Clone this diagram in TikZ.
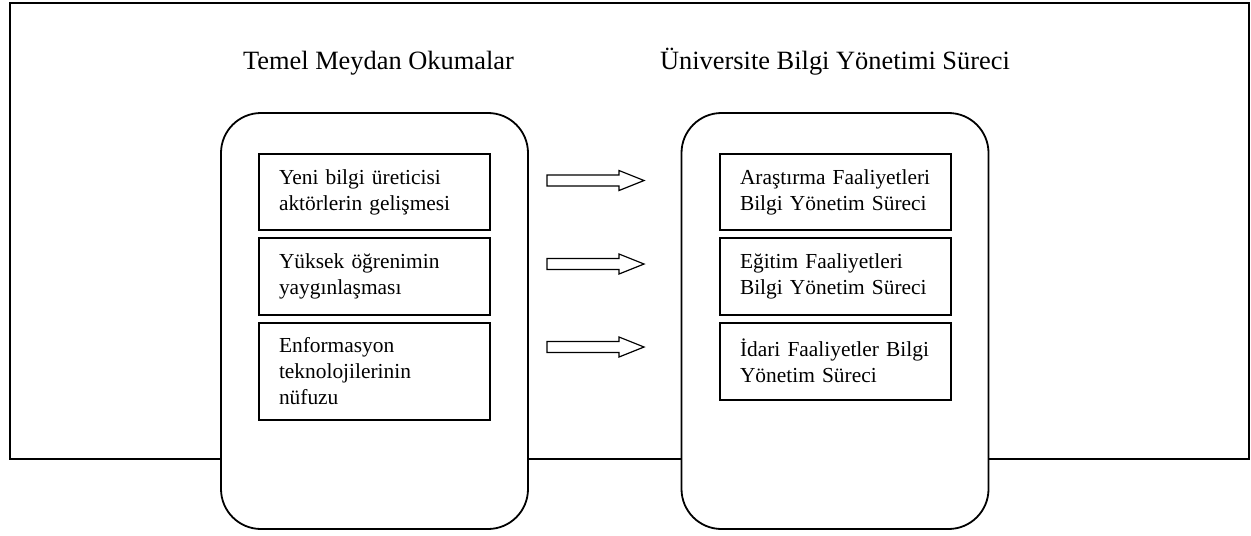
\documentclass[tikz,border=0pt]{standalone}
\usepackage{fontspec}
\setmainfont{Liberation Serif}
\usetikzlibrary{positioning}

\begin{document}
\begin{tikzpicture}[
  x=0.5pt, y=-0.5pt,
  frame/.style={draw=black, line width=1pt},
  panel/.style={draw=black, fill=white, line width=0.9pt, rounded corners=20pt,
                minimum width=153.5pt, minimum height=208pt, inner sep=0pt},
  cell/.style={draw=black, line width=0.9pt, align=left, text width=95.5pt,
               inner xsep=10pt, inner ysep=0pt, minimum width=115.5pt,
               font=\fontsize{10.7}{13}\selectfont},
  title/.style={anchor=base, font=\fontsize{13.2}{15}\selectfont},
  blk/.style={draw=black, fill=white, line width=0.6pt, line join=miter}
]
\useasboundingbox (0,0) rectangle (1251,535);

% ---------- outer frame ----------
\draw[frame] (10,3) rectangle (1249,459);

% ---------- panels ----------
\node[panel] (pl) at (374.5,321) {};
\node[panel] (pr) at (835,321) {};

% ---------- titles ----------
\node[title] (tl) at (378.5,69) {Temel Meydan Okumalar};
\node[title] (tr) at (835,69) {Üniversite Bilgi Yönetimi Süreci};

% ---------- challenges ----------
\node[cell, minimum height=38pt] (l1) at (374.5,192) {Yeni bilgi üreticisi\\aktörlerin gelişmesi};
\node[cell, minimum height=38.5pt, below=3pt of l1] (l2) {Yüksek öğrenimin\\yaygınlaşması};
\node[cell, minimum height=48.5pt, below=3pt of l2] (l3) {Enformasyon\\teknolojilerinin\\nüfuzu};

% ---------- processes ----------
\node[cell, minimum height=38pt] (r1) at (835.5,192) {Araştırma Faaliyetleri\\Bilgi Yönetim Süreci};
\node[cell, minimum height=38.5pt, below=3pt of r1] (r2) {Eğitim Faaliyetleri\\Bilgi Yönetim Süreci};
\node[cell, minimum height=38.5pt, below=3pt of r2] (r3) {İdari Faaliyetler Bilgi\\Yönetim Süreci};

% ---------- block arrows ----------
\foreach \y in {180.5,264,347}
  \draw[blk] (547,\y-5.5) -- (619,\y-5.5) -- (619,\y-10) -- (644,\y)
    -- (619,\y+10) -- (619,\y+5.5) -- (547,\y+5.5) -- cycle;

\end{tikzpicture}
\end{document}
